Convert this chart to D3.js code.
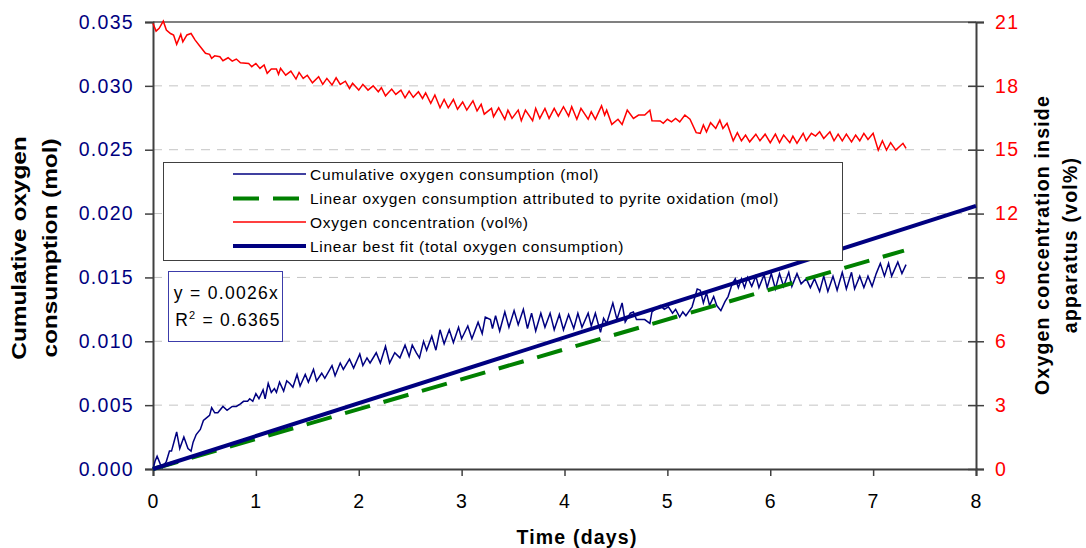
<!DOCTYPE html>
<html>
<head>
    <title>Oxygen consumption</title>
    <script src="https://d3js.org/d3.v7.min.js"></script>
    <style>
        body { margin: 0; background: #fff; }
        text { font-family: "Liberation Sans", Arial, sans-serif; }
    </style>
</head>
<body>
<svg width="1086" height="548"></svg>
<script>
    // cumulative oxygen consumption (mol)
    const cumDays = [0.00, 0.02, 0.04, 0.07, 0.09, 0.13, 0.16, 0.18, 0.20, 0.23, 0.26, 0.30, 0.34, 0.37, 0.39, 0.42, 0.46, 0.49, 0.52, 0.55,
        0.57, 0.60, 0.63, 0.68, 0.72, 0.77, 0.81, 0.85, 0.88, 0.92, 0.94, 0.97, 1.00, 1.03, 1.07, 1.09, 1.12, 1.15, 1.18, 1.20,
        1.23, 1.27, 1.30, 1.33, 1.36, 1.40, 1.43, 1.48, 1.51, 1.56, 1.59, 1.64, 1.67, 1.74, 1.77, 1.82, 1.85, 1.91, 1.95, 2.01,
        2.04, 2.08, 2.11, 2.17, 2.21, 2.26, 2.30, 2.35, 2.40, 2.45, 2.49, 2.52, 2.56, 2.59, 2.63, 2.66, 2.71, 2.75, 2.79, 2.83,
        2.88, 2.92, 2.97, 3.00, 3.06, 3.10, 3.16, 3.20, 3.23, 3.28, 3.30, 3.33, 3.37, 3.42, 3.46, 3.51, 3.55, 3.60, 3.64, 3.68,
        3.72, 3.77, 3.81, 3.86, 3.90, 3.95, 3.99, 4.04, 4.09, 4.13, 4.17, 4.23, 4.26, 4.30, 4.35, 4.38, 4.41, 4.47, 4.51, 4.56,
        4.59, 4.64, 4.67, 4.70, 4.78, 4.83, 4.85, 4.93, 4.97, 5.01, 5.05, 5.08, 5.12, 5.15, 5.18, 5.24, 5.29, 5.32, 5.35, 5.38,
        5.41, 5.45, 5.48, 5.52, 5.56, 5.59, 5.63, 5.66, 5.69, 5.72, 5.75, 5.78, 5.82, 5.86, 5.89, 5.94, 5.97, 6.01, 6.05, 6.09,
        6.13, 6.18, 6.21, 6.26, 6.30, 6.35, 6.39, 6.43, 6.48, 6.52, 6.56, 6.61, 6.65, 6.70, 6.74, 6.79, 6.82, 6.87, 6.91, 6.95,
        6.99, 7.03, 7.07, 7.11, 7.15, 7.18, 7.24, 7.28, 7.32];
    const cumValues = [0.0000, 0.0006, 0.0010, 0.0004, 0.0001, 0.0006, 0.0014, 0.0014, 0.0020, 0.0029, 0.0016, 0.0025, 0.0016, 0.0014, 0.0021, 0.0027, 0.0031, 0.0038, 0.0040, 0.0042,
        0.0048, 0.0044, 0.0044, 0.0049, 0.0046, 0.0049, 0.0049, 0.0051, 0.0053, 0.0053, 0.0055, 0.0053, 0.0059, 0.0055, 0.0062, 0.0055, 0.0067, 0.0060, 0.0063, 0.0060,
        0.0068, 0.0061, 0.0069, 0.0067, 0.0064, 0.0074, 0.0065, 0.0074, 0.0068, 0.0078, 0.0069, 0.0075, 0.0071, 0.0081, 0.0073, 0.0083, 0.0078, 0.0086, 0.0079, 0.0090,
        0.0081, 0.0087, 0.0083, 0.0091, 0.0083, 0.0096, 0.0083, 0.0091, 0.0087, 0.0097, 0.0088, 0.0097, 0.0091, 0.0087, 0.0100, 0.0093, 0.0104, 0.0093, 0.0109, 0.0098,
        0.0109, 0.0099, 0.0111, 0.0102, 0.0112, 0.0102, 0.0115, 0.0106, 0.0119, 0.0117, 0.0110, 0.0120, 0.0108, 0.0123, 0.0111, 0.0124, 0.0113, 0.0125, 0.0110, 0.0122,
        0.0108, 0.0122, 0.0111, 0.0122, 0.0109, 0.0121, 0.0109, 0.0121, 0.0110, 0.0122, 0.0111, 0.0122, 0.0112, 0.0122, 0.0107, 0.0118, 0.0114, 0.0130, 0.0117, 0.0130,
        0.0115, 0.0122, 0.0123, 0.0117, 0.0117, 0.0114, 0.0123, 0.0128, 0.0125, 0.0127, 0.0122, 0.0125, 0.0119, 0.0123, 0.0120, 0.0127, 0.0141, 0.0140, 0.0130, 0.0138,
        0.0128, 0.0135, 0.0128, 0.0124, 0.0131, 0.0135, 0.0145, 0.0149, 0.0142, 0.0149, 0.0142, 0.0150, 0.0143, 0.0151, 0.0142, 0.0152, 0.0142, 0.0153, 0.0141, 0.0153,
        0.0143, 0.0154, 0.0143, 0.0153, 0.0145, 0.0149, 0.0142, 0.0149, 0.0139, 0.0151, 0.0139, 0.0151, 0.0140, 0.0154, 0.0141, 0.0154, 0.0141, 0.0151, 0.0142, 0.0151,
        0.0143, 0.0153, 0.0161, 0.0151, 0.0161, 0.0151, 0.0162, 0.0153, 0.0160];

    // oxygen concentration inside apparatus (vol%)
    const o2Days = [0.00, 0.03, 0.06, 0.10, 0.13, 0.17, 0.20, 0.23, 0.27, 0.29, 0.33, 0.37, 0.41, 0.46, 0.51, 0.55, 0.57, 0.60, 0.65, 0.68,
        0.73, 0.77, 0.81, 0.85, 0.93, 0.96, 1.00, 1.04, 1.08, 1.11, 1.15, 1.20, 1.22, 1.24, 1.29, 1.34, 1.39, 1.42, 1.46, 1.50,
        1.55, 1.61, 1.65, 1.69, 1.74, 1.78, 1.82, 1.87, 1.91, 1.94, 2.00, 2.04, 2.09, 2.14, 2.19, 2.22, 2.26, 2.32, 2.36, 2.41,
        2.45, 2.49, 2.53, 2.58, 2.62, 2.65, 2.70, 2.74, 2.79, 2.83, 2.87, 2.92, 2.96, 3.01, 3.05, 3.11, 3.15, 3.19, 3.22, 3.29,
        3.31, 3.36, 3.42, 3.45, 3.49, 3.55, 3.58, 3.62, 3.69, 3.72, 3.76, 3.81, 3.85, 3.90, 3.94, 3.99, 4.04, 4.07, 4.12, 4.16,
        4.23, 4.26, 4.30, 4.36, 4.39, 4.41, 4.46, 4.52, 4.56, 4.61, 4.67, 4.72, 4.78, 4.83, 4.85, 4.93, 4.96, 5.00, 5.04, 5.08,
        5.12, 5.17, 5.22, 5.28, 5.32, 5.35, 5.38, 5.42, 5.47, 5.51, 5.54, 5.58, 5.64, 5.68, 5.72, 5.76, 5.80, 5.86, 5.90, 5.95,
        6.00, 6.05, 6.09, 6.13, 6.19, 6.22, 6.26, 6.32, 6.35, 6.40, 6.44, 6.48, 6.52, 6.58, 6.62, 6.66, 6.70, 6.74, 6.79, 6.83,
        6.87, 6.91, 6.95, 7.00, 7.05, 7.09, 7.13, 7.17, 7.22, 7.29, 7.32];
    const o2Values = [20.93, 20.57, 20.70, 21.04, 20.62, 20.46, 20.39, 19.95, 20.42, 20.07, 20.39, 20.46, 20.15, 19.84, 19.53, 19.48, 19.29, 19.41, 19.37, 19.18,
        19.32, 19.16, 19.26, 19.08, 19.05, 18.90, 19.05, 18.82, 18.98, 18.59, 18.79, 18.79, 18.54, 18.82, 18.50, 18.69, 18.32, 18.63, 18.35, 18.50,
        18.14, 18.43, 18.07, 18.35, 18.04, 18.38, 18.07, 18.22, 17.88, 18.12, 17.80, 18.07, 17.80, 18.00, 17.72, 17.91, 17.53, 17.85, 17.60, 17.80,
        17.44, 17.75, 17.46, 17.72, 17.41, 17.67, 17.18, 17.57, 16.97, 17.36, 16.97, 17.36, 16.90, 17.24, 16.86, 17.30, 16.82, 17.13, 16.67, 16.94,
        16.55, 16.97, 16.43, 16.86, 16.47, 16.86, 16.36, 16.86, 16.36, 16.94, 16.47, 16.94, 16.47, 16.94, 16.58, 17.02, 16.58, 17.02, 16.43, 16.94,
        16.43, 16.78, 16.43, 17.06, 16.63, 16.86, 16.19, 16.43, 16.19, 16.86, 16.47, 16.63, 16.63, 16.86, 16.36, 16.35, 16.24, 16.43, 16.31, 16.47,
        16.31, 16.63, 16.43, 15.80, 15.77, 16.16, 15.84, 16.27, 16.00, 16.39, 16.00, 16.24, 15.42, 15.80, 15.42, 15.69, 15.37, 15.73, 15.42, 15.73,
        15.33, 15.73, 15.33, 15.69, 15.33, 15.64, 15.30, 15.77, 15.42, 15.77, 15.64, 15.84, 15.53, 15.84, 15.42, 15.73, 15.42, 15.73, 15.37, 15.69,
        15.42, 15.77, 15.48, 15.77, 14.98, 15.42, 14.98, 15.33, 14.98, 15.30, 15.06];

    // straight lines
    const pyriteDays = [0, 7.3];
    const pyriteValues = [0, 0.0171];
    const fitDays = [0, 8];
    const fitValues = [0, 0.0206];

    const leftTicks = [0, 0.005, 0.010, 0.015, 0.020, 0.025, 0.030, 0.035];
    const rightTicks = [0, 3, 6, 9, 12, 15, 18, 21];
    const dayTicks = [0, 1, 2, 3, 4, 5, 6, 7, 8];

    const legendLabels = [
        "Cumulative oxygen consumption (mol)",
        "Linear oxygen consumption attributed to pyrite oxidation (mol)",
        "Oxygen concentration (vol%)",
        "Linear best fit (total oxygen consumption)"
    ];

    const navy = "#000080", green = "#008000", red = "#ff0000";
    const plotLeft = 153, plotRight = 976, plotTop = 22, plotBottom = 469;

    const svg = d3.select("svg");
    const x = d3.scaleLinear().domain([0, 8]).range([plotLeft, plotRight]);
    const yL = d3.scaleLinear().domain([0, 0.035]).range([plotBottom, plotTop]);
    const yR = d3.scaleLinear().domain([0, 21]).range([plotBottom, plotTop]);

    // grid lines
    svg.append("g").selectAll("line")
        .data(leftTicks.slice(1, -1))
        .enter().append("line")
        .attr("x1", plotLeft).attr("x2", plotRight)
        .attr("y1", d => yL(d)).attr("y2", d => yL(d))
        .attr("stroke", "#c4c4c4")
        .attr("stroke-dasharray", "9,7");

    svg.append("line")
        .attr("x1", plotLeft).attr("x2", plotRight)
        .attr("y1", plotTop).attr("y2", plotTop)
        .attr("stroke", "#808080").attr("stroke-width", 2);

    // axes
    const xAxis = svg.append("g")
        .attr("transform", `translate(0,${plotBottom})`)
        .call(d3.axisBottom(x).tickValues(dayTicks).tickSize(7).tickPadding(18).tickFormat(d3.format("d")));
    const yAxisL = svg.append("g")
        .attr("transform", `translate(${plotLeft},0)`)
        .call(d3.axisLeft(yL).tickValues(leftTicks).tickSize(8).tickPadding(11).tickFormat(d3.format(".3f")));
    const yAxisR = svg.append("g")
        .attr("transform", `translate(${plotRight},0)`)
        .call(d3.axisRight(yR).tickValues(rightTicks).tickSize(8).tickPadding(11).tickFormat(d3.format("d")));
    yAxisR.selectAll(".tick line").attr("x1", -8);

    [xAxis, yAxisL, yAxisR].forEach(g => {
        g.attr("font-family", null).attr("font-size", null);
        g.select(".domain").attr("stroke", "#404040").attr("stroke-width", 2);
        g.selectAll(".tick line").attr("stroke", "#404040").attr("stroke-width", 1.5);
        g.selectAll(".tick text")
            .style("font-size", "19.5px")
            .style("letter-spacing", "1.3px");
    });
    xAxis.selectAll(".tick text").attr("fill", "#000");
    yAxisL.selectAll(".tick text").attr("fill", navy);
    yAxisR.selectAll(".tick text").attr("fill", red);

    // series
    const line = (xs, ys, yScale) => d3.line()
        .x(i => x(xs[i]))
        .y(i => yScale(ys[i]))(d3.range(xs.length));

    svg.append("path")
        .attr("d", line(o2Days, o2Values, yR))
        .attr("fill", "none").attr("stroke", red).attr("stroke-width", 1.5);

    svg.append("path")
        .attr("d", line(cumDays, cumValues, yL))
        .attr("fill", "none").attr("stroke", navy).attr("stroke-width", 1.5);

    svg.append("path")
        .attr("d", line(pyriteDays, pyriteValues, yL))
        .attr("fill", "none").attr("stroke", green).attr("stroke-width", 4)
        .attr("stroke-dasharray", "26,14");

    svg.append("path")
        .attr("d", line(fitDays, fitValues, yL))
        .attr("fill", "none").attr("stroke", navy).attr("stroke-width", 4);

    // legend
    const legend = svg.append("g");
    legend.append("rect")
        .attr("x", 163.5).attr("y", 162.5).attr("width", 679).attr("height", 98)
        .attr("fill", "#fff").attr("stroke", "#404040");
    const styles = [
        {stroke: navy, width: 1.5, dash: null},
        {stroke: green, width: 4, dash: "26,14"},
        {stroke: red, width: 1.5, dash: null},
        {stroke: navy, width: 4, dash: null}
    ];
    const rowY = [174, 198.5, 222, 246];
    legendLabels.forEach((label, i) => {
        legend.append("line")
            .attr("x1", 233).attr("x2", 306)
            .attr("y1", rowY[i]).attr("y2", rowY[i])
            .attr("stroke", styles[i].stroke)
            .attr("stroke-width", styles[i].width)
            .attr("stroke-dasharray", styles[i].dash);
        legend.append("text")
            .attr("x", 310).attr("y", rowY[i] + 5.5)
            .style("font-size", "15.5px")
            .style("letter-spacing", "0.73px")
            .text(label);
    });

    // equation box
    const eq = svg.append("g");
    eq.append("rect")
        .attr("x", 168.5).attr("y", 271.5).attr("width", 114).attr("height", 70)
        .attr("fill", "#fff").attr("stroke", "#3c3caa");
    eq.append("text")
        .attr("x", 226.5).attr("y", 299)
        .attr("text-anchor", "middle")
        .style("font-size", "17.5px").style("letter-spacing", "1.3px")
        .text("y = 0.0026x");
    const r2 = eq.append("text")
        .attr("x", 228).attr("y", 326)
        .attr("text-anchor", "middle")
        .style("font-size", "17.5px").style("letter-spacing", "1.2px");
    r2.append("tspan").text("R");
    r2.append("tspan").attr("dy", -7).style("font-size", "11px").text("2");
    r2.append("tspan").attr("dy", 7).text(" = 0.6365");

    // axis titles
    svg.append("text")
        .attr("x", 577).attr("y", 544)
        .attr("text-anchor", "middle")
        .style("font-size", "19.5px").style("font-weight", "bold").style("letter-spacing", "1.2px")
        .text("Time (days)");

    const leftTitle = svg.append("text")
        .attr("transform", "translate(0,248) rotate(-90) scale(1.25,1)")
        .attr("text-anchor", "middle")
        .style("font-size", "19.5px").style("font-weight", "bold");
    leftTitle.append("tspan").attr("x", 0).attr("y", 26).text("Cumulative oxygen");
    leftTitle.append("tspan").attr("x", 0).attr("y", 57).text("consumption (mol)");

    const rightTitle = svg.append("text")
        .attr("transform", "translate(0,245) rotate(-90)")
        .attr("text-anchor", "middle")
        .style("font-size", "19.5px").style("font-weight", "bold").style("letter-spacing", "1.2px");
    rightTitle.append("tspan").attr("x", 0).attr("y", 1049).text("Oxygen concentration inside");
    rightTitle.append("tspan").attr("x", 0).attr("y", 1077).text("apparatus (vol%)");
</script>
</body>
</html>
